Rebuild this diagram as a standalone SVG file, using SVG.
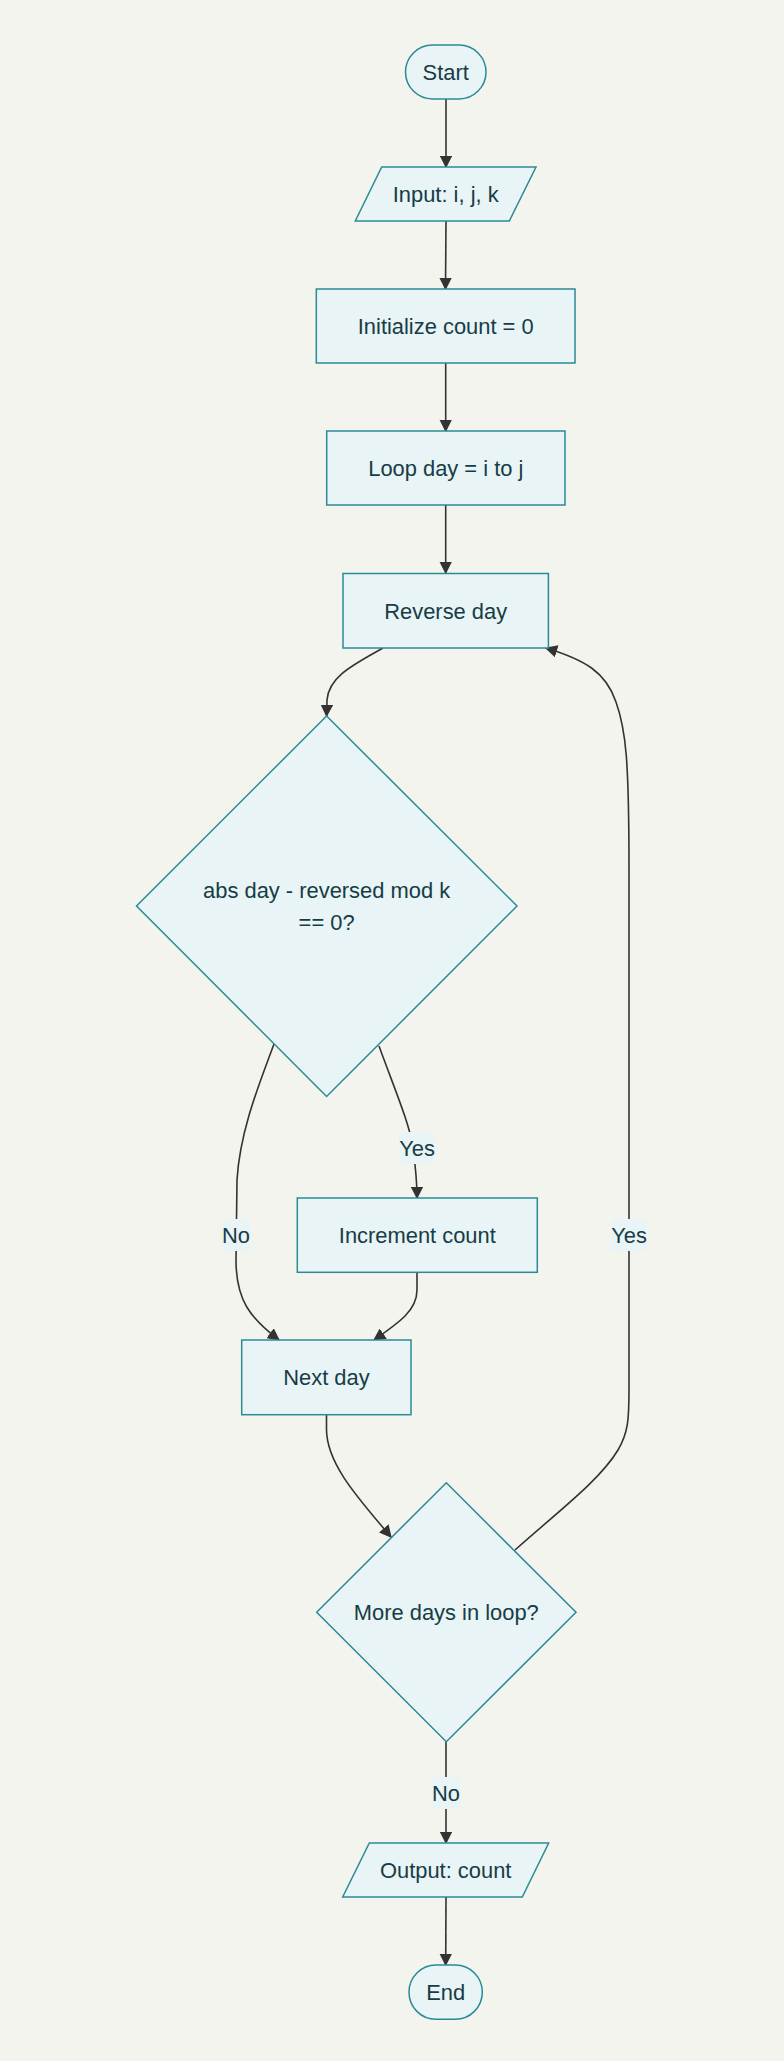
<svg xmlns="http://www.w3.org/2000/svg" width="784" height="2061" viewBox="0 0 784 2061">
<defs>
<style>
.node{fill:#e8f4f5;stroke:#2b8a96;stroke-width:1.5}
.t{font-family:"Liberation Sans",Arial,sans-serif;font-size:21.9px;fill:#173c45;text-anchor:middle;dominant-baseline:central}
.e{fill:none;stroke:#333;stroke-width:1.6}
.lbl{fill:#e8f4f5}
</style>
<marker id="arr" viewBox="0 0 10 10" refX="9" refY="5" markerWidth="12.5" markerHeight="12.5" markerUnits="userSpaceOnUse" orient="auto">
<path d="M0,0 L10,5 L0,10 z" fill="#333"/>
</marker>
</defs>
<rect width="784" height="2061" fill="#f3f4ee"/>
<g id="edges">
<path class="e" marker-end="url(#arr)" d="M446,99 L446,167"/>
<path class="e" marker-end="url(#arr)" d="M446,221 L445.5,289"/>
<path class="e" marker-end="url(#arr)" d="M445.7,363 L445.7,431"/>
<path class="e" marker-end="url(#arr)" d="M445.7,505 L445.7,573"/>
<path class="e" marker-end="url(#arr)" d="M383,648 C355,664 329,676 327,700 L326.6,716"/>
<path class="e" marker-end="url(#arr)" d="M379,1046 C395,1090 410,1125 413,1148 C416,1170 417,1180 417,1198"/>
<path class="e" marker-end="url(#arr)" d="M274,1044 C260,1082 240,1130 237,1180 L236,1260 C236,1300 250,1318 279,1340"/>
<path class="e" marker-end="url(#arr)" d="M417,1272 L417,1290 C417,1310 400,1322 374,1340"/>
<path class="e" marker-end="url(#arr)" d="M326.5,1415 L326.5,1430 C327,1465 360,1500 391,1537"/>
<path class="e" marker-end="url(#arr)" d="M515,1550 C560,1510 600,1480 618,1450 C628,1433 629,1420 629,1390 L629,870 C629,760 626,730 616,702 C606,672 585,660 546,648"/>
<path class="e" marker-end="url(#arr)" d="M446,1742 L446,1843"/>
<path class="e" marker-end="url(#arr)" d="M446,1897 L445.7,1965"/>
<rect class="lbl" x="399" y="1132" width="36" height="32"/>
<text class="t" x="417" y="1148">Yes</text>
<rect class="lbl" x="222" y="1219" width="28" height="32"/>
<text class="t" x="236" y="1235">No</text>
<rect class="lbl" x="611.5" y="1219" width="35" height="32"/>
<text class="t" x="629" y="1235">Yes</text>
<rect class="lbl" x="432" y="1777" width="28" height="32"/>
<text class="t" x="446" y="1793">No</text>
</g>
<g id="start">
<rect class="node" x="405.5" y="45" width="80.5" height="54" rx="27"/>
<text class="t" x="445.7" y="72">Start</text>
</g>
<g id="input">
<polygon class="node" points="381.7,167 536,167 509.3,221 355.3,221"/>
<text class="t" x="445.7" y="194">Input: i, j, k</text>
</g>
<g id="init">
<rect class="node" x="316.3" y="289" width="258.7" height="74"/>
<text class="t" x="445.7" y="326">Initialize count = 0</text>
</g>
<g id="loop">
<rect class="node" x="326.7" y="431" width="238.3" height="74"/>
<text class="t" x="445.8" y="468">Loop day = i to j</text>
</g>
<g id="reverse">
<rect class="node" x="343" y="573.5" width="205.4" height="74.5"/>
<text class="t" x="445.7" y="611">Reverse day</text>
</g>
<g id="check">
<polygon class="node" points="326.6,716 517,906 326.6,1096.5 136.5,906"/>
<text class="t" x="326.6" y="890">abs day - reversed mod k</text>
<text class="t" x="326.6" y="922.5">== 0?</text>
</g>
<g id="increment">
<rect class="node" x="297.3" y="1198" width="240" height="74.3"/>
<text class="t" x="417.3" y="1235">Increment count</text>
</g>
<g id="next">
<rect class="node" x="241.7" y="1340" width="169.3" height="74.7"/>
<text class="t" x="326.4" y="1377">Next day</text>
</g>
<g id="more">
<polygon class="node" points="446.3,1482.7 576,1612.3 446.3,1741.7 316.7,1612.3"/>
<text class="t" x="446.3" y="1612">More days in loop?</text>
</g>
<g id="output">
<polygon class="node" points="369.3,1843 548.7,1843 522.3,1897 342.7,1897"/>
<text class="t" x="445.7" y="1870">Output: count</text>
</g>
<g id="end">
<rect class="node" x="409" y="1965" width="73.3" height="54.3" rx="27"/>
<text class="t" x="445.7" y="1992">End</text>
</g>
</svg>
